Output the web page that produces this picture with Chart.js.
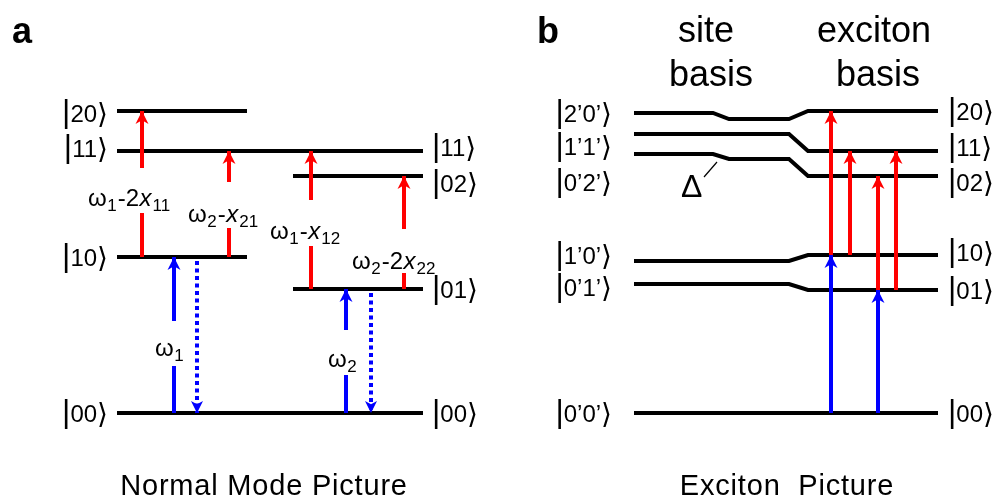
<!DOCTYPE html>
<html>
<head>
<meta charset="utf-8">
<script src="https://cdn.jsdelivr.net/npm/chart.js@4.4.1/dist/chart.umd.min.js"></script>
<style>
  html, body { margin: 0; padding: 0; background: #fff; }
  #wrap { width: 998px; height: 500px; }
</style>
</head>
<body>
<div id="wrap"><canvas id="levels"></canvas></div>
<script>
// ---- data: level energies (arbitrary units, ground state = 0) ----
// panel a, normal modes
const normalStates = ["00", "10", "01", "20", "11", "02"];
const normalEnergies = [0, 156, 124, 302, 262, 237];
// panel b, site basis -> exciton basis
const siteStates = ["0\u20190\u2019", "1\u20190\u2019", "0\u20191\u2019", "2\u20190\u2019", "1\u20191\u2019", "0\u20192\u2019"];
const siteEnergies = [0, 152, 129, 300, 279, 259];
const shiftedEnergies = [0, 152, 129, 294, 279, 254];
const excitonStates = ["00", "10", "01", "20", "11", "02"];
const excitonEnergies = [0, 158, 123, 302, 262, 237];

// transitions (state names)
const normalFrom = ["00", "10", "00", "01", "10", "10", "01", "01"];
const normalTo = ["10", "00", "01", "00", "20", "11", "11", "02"];
const normalLabels = ["ω_1", "", "ω_2", "", "ω_1-2x_11", "ω_2-x_21", "ω_1-x_12", "ω_2-2x_22"];
const excitonFrom = ["00", "10", "10", "00", "01", "01"];
const excitonTo = ["10", "20", "11", "01", "02", "11"];

// ---- layout ----
const FONT = '"Liberation Sans", "DejaVu Sans", sans-serif';
const BLACK = "#000000", RED = "#ff0000", BLUE = "#0000ff";

const normalLevelX = { "00": [117, 423], "10": [117, 247], "01": [293, 423], "20": [117, 247], "11": [117, 423], "02": [293, 423] };
const normalLeftLabels = { "20": 300, "11": 265, "10": 156, "00": 0 };
const normalRightLabels = { "11": 266, "02": 230, "01": 124, "00": 0 };
const normalArrowX = [174, 197, 346, 371, 142, 229, 311, 404];
const normalArrowGap = [[92, 47], null, [83, 38], null, [245, 200], [231, 185], [213, 167], [184, 140]];
const normalLabelPos = [[155, 66], null, [328, 55], null, [88, 216], [188, 200], [270, 183], [352, 153]];

const siteKinkX = [634, 713, 729, 789, 808, 938];
const siteLabelE = [0, 158, 126, 300, 267, 231];
const excitonLabelE = [0, 161, 123, 302, 266, 231];
const excitonArrowX = [831, 831, 850, 878, 878, 896];

const texts = [
  { segs: [{ t: "a", size: 36, bold: true }], x: 12, e: 370, align: "left" },
  { segs: [{ t: "b", size: 36, bold: true }], x: 537, e: 370, align: "left" },
  { segs: [{ t: "site", size: 36 }], x: 706, e: 371, align: "center" },
  { segs: [{ t: "basis", size: 36 }], x: 711, e: 327, align: "center" },
  { segs: [{ t: "exciton", size: 36 }], x: 874, e: 371, align: "center" },
  { segs: [{ t: "basis", size: 36 }], x: 878, e: 327, align: "center" },
  { segs: [{ t: "Normal Mode Picture", size: 29, spacing: 0.8 }], x: 264, e: -82, align: "center" },
  { segs: [{ t: "Exciton  Picture", size: 29, spacing: 0.8 }], x: 787, e: -82, align: "center" },
  { segs: [{ t: "Δ", size: 32 }], x: 681, e: 216, align: "left" }
];

function ket(inner) {
  return [{ t: "|", size: 32 }, { t: inner, size: 24 }, { t: "\u27E9", size: 28, dy: 1 }];
}

// "ω_1-2x_11": '_' starts subscript digits, x is italic
function transitionSegs(str) {
  const segs = [];
  let i = 0;
  while (i < str.length) {
    if (str[i] === "_") {
      let j = i + 1;
      while (j < str.length && /\d/.test(str[j])) j++;
      segs.push({ t: str.slice(i + 1, j), size: 17, dy: 5, pad: 1 });
      i = j;
    } else if (str[i] === "x") {
      segs.push({ t: "x", size: 24, italic: true, pad: 1 });
      i++;
    } else {
      let j = i;
      while (j < str.length && str[j] !== "_" && str[j] !== "x") j++;
      segs.push({ t: str.slice(i, j), size: 24, pad: 0.5 });
      i = j;
    }
  }
  return segs;
}

for (const s of normalStates) {
  if (s in normalLeftLabels) texts.push({ segs: ket(s), x: 108, e: normalLeftLabels[s], align: "right", mid: true });
  if (s in normalRightLabels) texts.push({ segs: ket(s), x: 432, e: normalRightLabels[s], align: "left", mid: true });
}
siteStates.forEach((s, i) => texts.push({ segs: ket(s), x: 612, e: siteLabelE[i], align: "right", mid: true }));
excitonStates.forEach((s, i) => texts.push({ segs: ket(s), x: 948, e: excitonLabelE[i], align: "left", mid: true }));
normalLabels.forEach((l, i) => {
  if (l) texts.push({ segs: transitionSegs(l), x: normalLabelPos[i][0], e: normalLabelPos[i][1], align: "left", mid: true });
});

// ---- datasets ----
const datasets = [];
const lineBase = { showLine: true, pointRadius: 0, fill: false, tension: 0, borderCapStyle: "butt", borderJoinStyle: "miter" };

normalStates.forEach((s, i) => {
  const [x0, x1] = normalLevelX[s];
  datasets.push({ ...lineBase, order: 2, borderColor: BLACK, borderWidth: 4,
    data: [{ x: x0, y: normalEnergies[i] }, { x: x1, y: normalEnergies[i] }] });
});

siteStates.forEach((s, i) => {
  const ys = [siteEnergies[i], siteEnergies[i], shiftedEnergies[i], shiftedEnergies[i], excitonEnergies[i], excitonEnergies[i]];
  datasets.push({ ...lineBase, order: 2, borderColor: BLACK, borderWidth: 4,
    data: siteKinkX.map((x, k) => ({ x: x, y: ys[k] })) });
});

// Δ pointer
datasets.push({ ...lineBase, order: 2, borderColor: BLACK, borderWidth: 1.2,
  data: [{ x: 704, y: 236 }, { x: 717, y: 251 }] });

function arrowData(x, eFrom, eTo, gap) {
  if (!gap) return [{ x: x, y: eFrom }, { x: x, y: eTo }];
  const up = eTo > eFrom;
  const g1 = up ? gap[1] : gap[0], g2 = up ? gap[0] : gap[1];
  return [{ x: x, y: eFrom }, { x: x, y: g1 }, { x: x, y: null }, { x: x, y: g2 }, { x: x, y: eTo }];
}

normalFrom.forEach((f, i) => {
  const eFrom = normalEnergies[normalStates.indexOf(f)];
  const eTo = normalEnergies[normalStates.indexOf(normalTo[i])];
  const emission = eTo < eFrom;
  const color = (f === "00" || normalTo[i] === "00") ? BLUE : RED;
  datasets.push({ ...lineBase, order: 1, borderColor: color, borderWidth: 4,
    borderDash: emission ? [4, 3.5] : [], spanGaps: false, arrow: { color: color, small: emission },
    data: arrowData(normalArrowX[i], emission ? eFrom - 4 : eFrom, eTo, normalArrowGap[i]) });
});

excitonFrom.forEach((f, i) => {
  const eFrom = excitonEnergies[excitonStates.indexOf(f)];
  const eTo = excitonEnergies[excitonStates.indexOf(excitonTo[i])];
  const color = f === "00" ? BLUE : RED;
  datasets.push({ ...lineBase, order: 1, borderColor: color, borderWidth: 4, arrow: { color: color },
    data: arrowData(excitonArrowX[i], eFrom, eTo, null) });
});

// ---- plugins: arrow heads and text ----
function fontStr(s) {
  return (s.italic ? "italic " : "") + (s.bold ? "bold " : "") + s.size + "px " + FONT;
}

function drawRich(ctx, item, xs, ys) {
  let w = 0;
  item.segs.forEach(s => {
    ctx.font = fontStr(s);
    ctx.letterSpacing = (s.spacing || 0) + "px";
    s.w = ctx.measureText(s.t).width;
    w += s.w + (s.pad || 0);
  });
  let cx = item.align === "right" ? xs - w : item.align === "center" ? xs - w / 2 : xs;
  const base = item.mid ? ys + 9 : ys;
  item.segs.forEach(s => {
    ctx.font = fontStr(s);
    ctx.letterSpacing = (s.spacing || 0) + "px";
    ctx.fillText(s.t, cx, base + (s.dy || 0));
    cx += s.w + (s.pad || 0);
  });
}

const diagramPlugin = {
  id: "diagram",
  afterDatasetsDraw(chart) {
    const ctx = chart.ctx;
    const xs = chart.scales.x, ys = chart.scales.y;
    ctx.save();
    chart.data.datasets.forEach(ds => {
      if (!ds.arrow) return;
      const pts = ds.data;
      const tip = pts[pts.length - 1], prev = pts[pts.length - 2];
      const tx = xs.getPixelForValue(tip.x), ty = ys.getPixelForValue(tip.y);
      const dir = ys.getPixelForValue(prev.y) > ty ? 1 : -1; // 1 = pointing up
      const len = ds.arrow.small ? 12 : 13, half = ds.arrow.small ? 6 : 6.5;
      ctx.fillStyle = ds.arrow.color;
      ctx.beginPath();
      ctx.moveTo(tx, ty);
      ctx.lineTo(tx - half, ty + dir * len);
      ctx.lineTo(tx, ty + dir * len * 0.72);
      ctx.lineTo(tx + half, ty + dir * len);
      ctx.closePath();
      ctx.fill();
    });
    ctx.fillStyle = BLACK;
    ctx.textBaseline = "alphabetic";
    ctx.textAlign = "left";
    texts.forEach(item => drawRich(ctx, item, xs.getPixelForValue(item.x), ys.getPixelForValue(item.e)));
    ctx.restore();
  }
};

new Chart(document.getElementById("levels"), {
  type: "scatter",
  data: { datasets: datasets },
  options: {
    responsive: true,
    maintainAspectRatio: false,
    animation: false,
    events: [],
    layout: { padding: 0 },
    plugins: { legend: { display: false }, tooltip: { enabled: false } },
    scales: {
      x: { type: "linear", min: 0, max: 998, display: false },
      y: { type: "linear", min: -87, max: 413, display: false }
    }
  },
  plugins: [diagramPlugin]
});
</script>
</body>
</html>
